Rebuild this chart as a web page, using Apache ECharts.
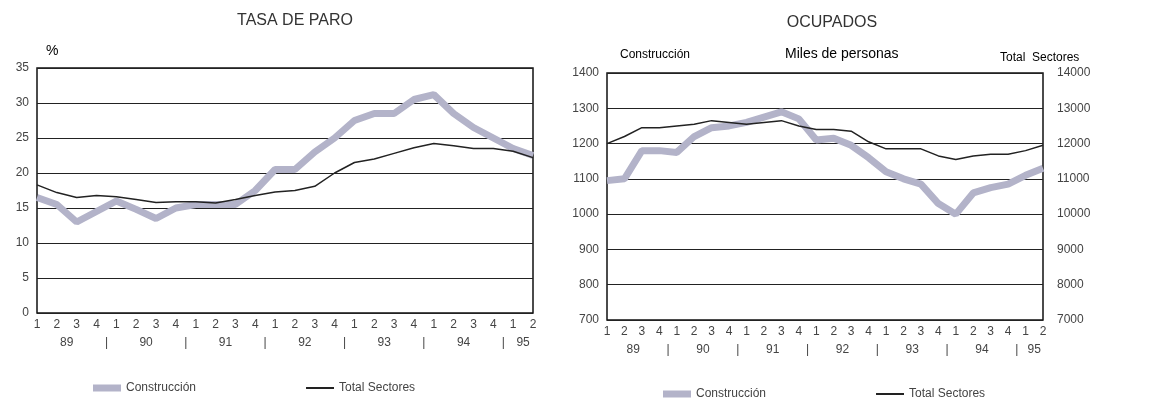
<!DOCTYPE html>
<html>
<head>
<meta charset="utf-8">
<script src="https://cdn.jsdelivr.net/npm/echarts@6/dist/echarts.min.js"></script>
<style>
  html, body { margin: 0; padding: 0; background: #fff; }
  #chart { width: 1163px; height: 400px; }
</style>
</head>
<body>
<div id="chart"></div>
<script>
const quarters = ['1','2','3','4','1','2','3','4','1','2','3','4','1','2','3','4','1','2','3','4','1','2','3','4','1','2']
const yearMarks = { 1.5: '89', 3.5: '|', 5.5: '90', 7.5: '|', 9.5: '91', 11.5: '|', 13.5: '92', 15.5: '|', 17.5: '93', 19.5: '|', 21.5: '94', 23.5: '|', 24.5: '95' }

const paroConstruccion = [16.5, 15.5, 13, 14.5, 16, 14.8, 13.5, 15, 15.5, 15.5, 15.5, 17.5, 20.5, 20.5, 23, 25, 27.5, 28.5, 28.5, 30.5, 31.2, 28.5, 26.5, 25, 23.5, 22.5]
const paroTotal = [18.3, 17.2, 16.5, 16.8, 16.6, 16.2, 15.8, 15.9, 15.9, 15.7, 16.2, 16.8, 17.3, 17.5, 18.1, 20, 21.5, 22, 22.8, 23.6, 24.2, 23.9, 23.5, 23.5, 23.1, 22.2]
const ocupConstruccion = [1095, 1100, 1180, 1180, 1175, 1220, 1245, 1250, 1260, 1275, 1290, 1270, 1210, 1215, 1195, 1160, 1120, 1100, 1085, 1030, 1000, 1060, 1075, 1085, 1110, 1130]
const ocupTotal = [12000, 12200, 12450, 12450, 12500, 12550, 12650, 12600, 12550, 12600, 12650, 12500, 12400, 12400, 12350, 12050, 11850, 11850, 11850, 11650, 11550, 11650, 11700, 11700, 11800, 11950]

const grey = '#b3b3c9'
const txt = { color: '#444', fontFamily: 'Liberation Sans', fontSize: 12 }
const gridLine = { show: true, lineStyle: { color: '#222', width: 1 } }
const plain = v => String(v)
const thinLine = 'path://M0,0L28,0L28,2L0,2Z'

function catAxis(gridIndex) {
  return {
    type: 'category', gridIndex, data: quarters, boundaryGap: false,
    axisLine: { show: false }, axisTick: { show: false },
    axisLabel: Object.assign({ interval: 0, margin: 6 }, txt)
  }
}
function yearAxis(gridIndex) {
  return {
    type: 'value', gridIndex, position: 'bottom', min: 0, max: 25, interval: 0.5,
    axisLine: { show: false }, axisTick: { show: false }, splitLine: { show: false },
    axisLabel: Object.assign({ margin: 24, formatter: v => yearMarks[v] || '' }, txt)
  }
}
function legend(left, top) {
  return {
    left, top, itemWidth: 28, itemHeight: 7, itemGap: 110, textStyle: txt,
    data: [
      { name: 'Construcción', icon: 'rect' },
      { name: 'Total Sectores', icon: thinLine, itemStyle: { color: '#222' } }
    ]
  }
}

const chart = echarts.init(document.getElementById('chart'))
chart.setOption({
  animation: false,
  title: [
    { text: 'TASA DE PARO', left: 290, top: 8, textAlign: 'center', textStyle: { color: '#333', fontWeight: 'normal', fontSize: 16, fontFamily: 'Liberation Sans' } },
    { text: 'OCUPADOS', left: 827, top: 10, textAlign: 'center', textStyle: { color: '#333', fontWeight: 'normal', fontSize: 16, fontFamily: 'Liberation Sans' } }
  ],
  graphic: [
    { type: 'text', left: 46, top: 44, style: Object.assign({ text: '%' }, txt, { fontSize: 14 }) },
    { type: 'text', left: 620, top: 49, style: Object.assign({ text: 'Construcción' }, txt) },
    { type: 'text', left: 785, top: 47, style: Object.assign({ text: 'Miles de personas' }, txt, { fontSize: 14 }) },
    { type: 'text', left: 1000, top: 52, style: Object.assign({ text: 'Total  Sectores' }, txt) }
  ],
  legend: [legend(88, 377), legend(658, 383)],
  grid: [
    { left: 37, right: 630, top: 68, height: 245, show: true, borderColor: '#111', borderWidth: 1.5 },
    { left: 607, right: 120, top: 73, height: 247, show: true, borderColor: '#111', borderWidth: 1.5 }
  ],
  xAxis: [catAxis(0), yearAxis(0), catAxis(1), yearAxis(1)],
  yAxis: [
    { type: 'value', gridIndex: 0, min: 0, max: 35, interval: 5, axisLine: { show: false }, axisTick: { show: false }, splitLine: gridLine, axisLabel: Object.assign({ formatter: plain }, txt) },
    { type: 'value', gridIndex: 1, min: 700, max: 1400, interval: 100, axisLine: { show: false }, axisTick: { show: false }, splitLine: gridLine, axisLabel: Object.assign({ formatter: plain }, txt) },
    { type: 'value', gridIndex: 1, position: 'right', min: 7000, max: 14000, interval: 1000, axisLine: { show: false }, axisTick: { show: false }, splitLine: { show: false }, axisLabel: Object.assign({ margin: 14, formatter: plain }, txt) }
  ],
  series: [
    { name: 'Construcción', type: 'line', xAxisIndex: 0, yAxisIndex: 0, data: paroConstruccion, symbol: 'none', color: grey, lineStyle: { width: 7, color: grey } },
    { name: 'Total Sectores', type: 'line', xAxisIndex: 0, yAxisIndex: 0, data: paroTotal, symbol: 'none', color: '#222', lineStyle: { width: 1.5, color: '#222' } },
    { name: 'Construcción', type: 'line', xAxisIndex: 2, yAxisIndex: 1, data: ocupConstruccion, symbol: 'none', color: grey, lineStyle: { width: 7, color: grey } },
    { name: 'Total Sectores', type: 'line', xAxisIndex: 2, yAxisIndex: 2, data: ocupTotal, symbol: 'none', color: '#222', lineStyle: { width: 1.5, color: '#222' } }
  ]
})
</script>
</body>
</html>
